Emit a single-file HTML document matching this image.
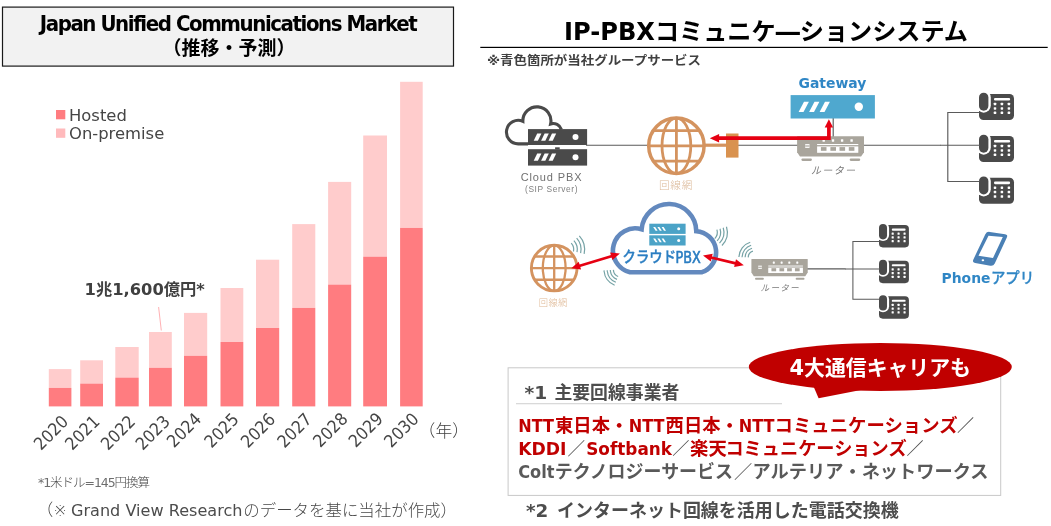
<!DOCTYPE html>
<html lang="ja"><head><meta charset="utf-8"><title>Japan Unified Communications Market / IP-PBX</title>
<style>
html,body{margin:0;padding:0;background:#fff;}
body{width:1051px;height:526px;overflow:hidden;position:relative;}
svg{position:absolute;left:0;top:0;display:block;will-change:transform;}
svg text{font-family:"DejaVu Sans","Noto Sans CJK JP",sans-serif;white-space:pre;}
</style></head><body>
<svg width="1051" height="526" viewBox="0 0 1051 526">
<rect x="2.5" y="7.1" width="451" height="59" fill="#f2f2f2" stroke="#1a1a1a" stroke-width="1.2"/>
<text x="39.8" y="30.7" font-size="22" font-weight="700" fill="#000" letter-spacing="-1.4" textLength="376.5" lengthAdjust="spacing" style="font-family:'DejaVu Sans Condensed','DejaVu Sans',sans-serif">Japan Unified Communications Market</text>
<text x="229" y="54.7" text-anchor="middle" font-size="19" font-weight="700" fill="#000">（推移・予測）</text>
<rect x="48.8" y="369.1" width="22.6" height="18.8" fill="#ffcccc"/>
<rect x="48.8" y="387.9" width="22.6" height="18.5" fill="#ff7c80"/>
<text transform="translate(41.05,451.05) rotate(-45)" font-size="17.2" fill="#454545" textLength="40.2" lengthAdjust="spacingAndGlyphs">2020</text>
<rect x="80.2" y="360.3" width="22.8" height="23.3" fill="#ffcccc"/>
<rect x="80.2" y="383.6" width="22.8" height="22.8" fill="#ff7c80"/>
<text transform="translate(72.35,451.05) rotate(-45)" font-size="17.2" fill="#454545" textLength="40.2" lengthAdjust="spacingAndGlyphs">2021</text>
<rect x="115.3" y="347.0" width="23.4" height="30.6" fill="#ffcccc"/>
<rect x="115.3" y="377.6" width="23.4" height="28.8" fill="#ff7c80"/>
<text transform="translate(107.95,451.05) rotate(-45)" font-size="17.2" fill="#454545" textLength="40.2" lengthAdjust="spacingAndGlyphs">2022</text>
<rect x="149.0" y="332.0" width="22.8" height="35.8" fill="#ffcccc"/>
<rect x="149.0" y="367.8" width="22.8" height="38.6" fill="#ff7c80"/>
<text transform="translate(142.65,451.05) rotate(-45)" font-size="17.2" fill="#454545" textLength="40.2" lengthAdjust="spacingAndGlyphs">2023</text>
<rect x="184.0" y="312.9" width="23.2" height="42.9" fill="#ffcccc"/>
<rect x="184.0" y="355.8" width="23.2" height="50.6" fill="#ff7c80"/>
<text transform="translate(174.05,448.55) rotate(-45)" font-size="17.2" fill="#454545" textLength="40.2" lengthAdjust="spacingAndGlyphs">2024</text>
<rect x="220.5" y="288.0" width="22.8" height="54.0" fill="#ffcccc"/>
<rect x="220.5" y="342.0" width="22.8" height="64.4" fill="#ff7c80"/>
<text transform="translate(211.55,448.85) rotate(-45)" font-size="17.2" fill="#454545" textLength="40.2" lengthAdjust="spacingAndGlyphs">2025</text>
<rect x="256.0" y="259.7" width="23.2" height="68.3" fill="#ffcccc"/>
<rect x="256.0" y="328.0" width="23.2" height="78.4" fill="#ff7c80"/>
<text transform="translate(248.05,448.85) rotate(-45)" font-size="17.2" fill="#454545" textLength="40.2" lengthAdjust="spacingAndGlyphs">2026</text>
<rect x="292.2" y="224.1" width="23.1" height="83.8" fill="#ffcccc"/>
<rect x="292.2" y="307.9" width="23.1" height="98.5" fill="#ff7c80"/>
<text transform="translate(284.45,448.75) rotate(-45)" font-size="17.2" fill="#454545" textLength="40.2" lengthAdjust="spacingAndGlyphs">2027</text>
<rect x="328.1" y="181.9" width="23.1" height="102.7" fill="#ffcccc"/>
<rect x="328.1" y="284.6" width="23.1" height="121.8" fill="#ff7c80"/>
<text transform="translate(320.35,448.25) rotate(-45)" font-size="17.2" fill="#454545" textLength="40.2" lengthAdjust="spacingAndGlyphs">2028</text>
<rect x="363.2" y="135.5" width="23.8" height="121.2" fill="#ffcccc"/>
<rect x="363.2" y="256.7" width="23.8" height="149.7" fill="#ff7c80"/>
<text transform="translate(355.75,448.25) rotate(-45)" font-size="17.2" fill="#454545" textLength="40.2" lengthAdjust="spacingAndGlyphs">2029</text>
<rect x="400.1" y="81.8" width="22.6" height="146.1" fill="#ffcccc"/>
<rect x="400.1" y="227.9" width="22.6" height="178.5" fill="#ff7c80"/>
<text transform="translate(391.35,448.45) rotate(-45)" font-size="17.2" fill="#454545" textLength="40.2" lengthAdjust="spacingAndGlyphs">2030</text>
<text x="418.6" y="437.4" font-size="16.8" font-weight="300" fill="#404040">（年）</text>
<rect x="56" y="110" width="9.3" height="9.3" fill="#ff7c80"/>
<rect x="56" y="128.5" width="9.3" height="9.3" fill="#ffbabc"/>
<text x="69" y="120.5" font-size="16.4" fill="#454545">Hosted</text>
<text x="69" y="139" font-size="16.4" fill="#454545">On-premise</text>
<text x="84.6" y="294.6" font-size="16" font-weight="700" fill="#404040" textLength="120.3" lengthAdjust="spacingAndGlyphs">1兆1,600億円*</text>
<line x1="158.6" y1="307" x2="161.3" y2="330.5" stroke="#ff9c9f" stroke-width="0.8"/>
<text x="38" y="486.5" font-size="12.5" font-weight="300" fill="#4a4a4a" textLength="112" lengthAdjust="spacing"><tspan font-weight="400" fill="#6e6e6e">*1</tspan>米ドル<tspan font-weight="400" fill="#6e6e6e">=145</tspan>円換算</text>
<text x="36.8" y="516" font-size="16.5" font-weight="300" fill="#484848">（※</text>
<text x="71" y="516" font-size="16.6" fill="#4c4c4c" textLength="171.5" lengthAdjust="spacingAndGlyphs">Grand View Research</text>
<text x="243.3" y="516" font-size="16.45" font-weight="300" fill="#484848">のデータを基に当社が作成）</text>
<text x="564" y="39.6" font-size="24" font-weight="700" fill="#000" textLength="404" lengthAdjust="spacingAndGlyphs">IP-PBXコミュニケ―ションシステム</text>
<rect x="480.3" y="46.8" width="567.4" height="1.2" fill="#000"/>
<text x="487" y="65" font-size="12" font-weight="700" fill="#404040" textLength="214" lengthAdjust="spacingAndGlyphs">※青色箇所が当社グループサービス</text>
<g stroke="#5a5a5a" stroke-width="1.15" fill="none"><path d="M586 145.2 H940.5"/><path d="M833.2 118 V137"/></g>
<path d="M528 143.85 H518.2 A11.75 11.75 0 1 1 522.86 121.31 A14.05 14.05 0 1 1 550.62 123.94 A8.65 8.65 0 0 1 561.38 129.4" fill="none" stroke="#4a4a4a" stroke-width="3.1" stroke-linecap="butt"/>
<rect x="528" y="129.1" width="59.1" height="15.9" fill="#4a4a4a"/>
<polygon points="533.7,140.7 537.2,133.4 541.4,133.4 537.9,140.7" fill="#fff"/>
<polygon points="541.1,140.7 544.6,133.4 548.8,133.4 545.3,140.7" fill="#fff"/>
<polygon points="548.5,140.7 552.0,133.4 556.2,133.4 552.7,140.7" fill="#fff"/>
<circle cx="575.5" cy="137.1" r="3" fill="#fff"/>
<rect x="528" y="149.2" width="59.1" height="16.4" fill="#4a4a4a"/>
<polygon points="533.7,160.8 537.2,153.5 541.4,153.5 537.9,160.8" fill="#fff"/>
<polygon points="541.1,160.8 544.6,153.5 548.8,153.5 545.3,160.8" fill="#fff"/>
<polygon points="548.5,160.8 552.0,153.5 556.2,153.5 552.7,160.8" fill="#fff"/>
<circle cx="575.5" cy="157.2" r="3" fill="#fff"/>
<rect x="555.1" y="147.3" width="4.6" height="2.2" fill="#4a4a4a"/>
<text x="551.6" y="181" text-anchor="middle" font-size="11" fill="#707070" letter-spacing="0.9" style="font-family:'Liberation Sans',sans-serif">Cloud PBX</text>
<text x="551.6" y="191.6" text-anchor="middle" font-size="8.4" fill="#808080" letter-spacing="0.6" style="font-family:'Liberation Sans','Noto Sans CJK JP',sans-serif">(SIP Server)</text>
<circle cx="676.4" cy="145.8" r="28" fill="#fff"/>
<g fill="none" stroke="#d4935f" stroke-width="2.80"><circle cx="676.4" cy="145.8" r="27.7" stroke-width="3.5"/><ellipse cx="676.4" cy="145.8" rx="14.40" ry="27.7"/><line x1="676.4" y1="118.10000000000001" x2="676.4" y2="173.5"/><line x1="648.6999999999999" y1="145.8" x2="704.1" y2="145.8"/><line x1="653.27" y1="130.56" x2="699.53" y2="130.56"/><line x1="653.27" y1="161.04" x2="699.53" y2="161.04"/></g>
<text x="676" y="189.3" text-anchor="middle" font-size="10.7" font-weight="300" fill="#dcb999" letter-spacing="0.6">回線網</text>
<rect x="705" y="143.6" width="22" height="3.2" fill="#d4935f"/>
<rect x="726" y="133.5" width="12.5" height="24.1" fill="#d9924f"/>
<text x="832.4" y="88.4" text-anchor="middle" font-size="14.6" font-weight="700" fill="#2f86c5" textLength="67.9" lengthAdjust="spacingAndGlyphs" style="font-family:'DejaVu Sans',sans-serif">Gateway</text>
<rect x="790.6" y="95.1" width="84.3" height="23.4" fill="#4fa8cf"/>
<polygon points="798.6,111.9 804.0,101.7 808.9,101.7 803.5,111.9" fill="#fff"/>
<polygon points="809.1,111.9 814.5,101.7 819.4,101.7 814.0,111.9" fill="#fff"/>
<polygon points="819.6,111.9 825.0,101.7 829.9,101.7 824.5,111.9" fill="#fff"/>
<circle cx="858.8" cy="106.8" r="4.2" fill="#fff"/>
<g transform="translate(797.1,136.2) scale(1.0)"><path d="M0.4 0 H66.5 L66.9 0.4 V16.1 L64 20.4 H2.9 L0 16.1 V0.4 Z" fill="#a9a59c"/><rect x="4.3" y="22.3" width="10.5" height="2.4" rx="1.1" fill="#a9a59c"/><rect x="52.6" y="22.3" width="10.5" height="2.4" rx="1.1" fill="#a9a59c"/><rect x="8.1" y="7.9" width="4.3" height="3.8" fill="#fff"/><rect x="8.1" y="9.2" width="4.3" height="1.2" fill="#a9a59c"/><rect x="25.4" y="3.1" width="2.4" height="2.4" rx="0.5" fill="#fff"/><rect x="34.7" y="3.1" width="2.4" height="2.4" rx="0.5" fill="#fff"/><rect x="43.8" y="3.1" width="2.4" height="2.4" rx="0.5" fill="#fff"/><rect x="53.3" y="3.1" width="2.4" height="2.4" rx="0.5" fill="#fff"/><rect x="20" y="7.8" width="41.2" height="1.1" fill="#fff"/><rect x="20" y="10.2" width="41.2" height="6.4" fill="#fff"/><rect x="23.8" y="10.9" width="5.6" height="3.7" fill="#a9a59c"/><rect x="33.3" y="10.9" width="5.6" height="3.7" fill="#a9a59c"/><rect x="42.4" y="10.9" width="5.6" height="3.7" fill="#a9a59c"/><rect x="51.7" y="10.9" width="5.6" height="3.7" fill="#a9a59c"/></g>
<text x="833.7" y="173.9" text-anchor="middle" font-size="10" font-weight="400" fill="#7a7a7a" letter-spacing="1.4" font-style="italic">ルーター</text>
<path d="M716 138.2 H828.9 V125.5" fill="none" stroke="#e60012" stroke-width="3.7" stroke-linejoin="miter"/>
<polygon points="709.80,138.30 719.10,134.00 719.10,142.60" fill="#e60012"/>
<polygon points="828.90,119.20 833.10,127.40 824.70,127.40" fill="#e60012"/>
<g transform="translate(979,92.7) scale(1.0)"><rect x="0" y="1.3" width="35" height="26.1" rx="4.5" fill="#4a4a4a"/><rect x="-2.4" y="-2.4" width="14.2" height="22.4" rx="7.1" fill="#fff"/><rect x="0" y="0" width="9.4" height="18" rx="4.7" fill="#4a4a4a"/><rect x="15" y="5.2" width="16.1" height="2.6" rx="1.1" fill="#fff"/><rect x="14.75" y="10.05" width="2.5" height="2.5" rx="0.6" fill="#fff"/><rect x="14.75" y="14.45" width="2.5" height="2.5" rx="0.6" fill="#fff"/><rect x="14.75" y="18.85" width="2.5" height="2.5" rx="0.6" fill="#fff"/><rect x="21.65" y="10.05" width="2.5" height="2.5" rx="0.6" fill="#fff"/><rect x="21.65" y="14.45" width="2.5" height="2.5" rx="0.6" fill="#fff"/><rect x="21.65" y="18.85" width="2.5" height="2.5" rx="0.6" fill="#fff"/><rect x="28.65" y="10.05" width="2.5" height="2.5" rx="0.6" fill="#fff"/><rect x="28.65" y="14.45" width="2.5" height="2.5" rx="0.6" fill="#fff"/><rect x="28.65" y="18.85" width="2.5" height="2.5" rx="0.6" fill="#fff"/></g>
<g transform="translate(979,134.7) scale(1.0)"><rect x="0" y="1.3" width="35" height="26.1" rx="4.5" fill="#4a4a4a"/><rect x="-2.4" y="-2.4" width="14.2" height="22.4" rx="7.1" fill="#fff"/><rect x="0" y="0" width="9.4" height="18" rx="4.7" fill="#4a4a4a"/><rect x="15" y="5.2" width="16.1" height="2.6" rx="1.1" fill="#fff"/><rect x="14.75" y="10.05" width="2.5" height="2.5" rx="0.6" fill="#fff"/><rect x="14.75" y="14.45" width="2.5" height="2.5" rx="0.6" fill="#fff"/><rect x="14.75" y="18.85" width="2.5" height="2.5" rx="0.6" fill="#fff"/><rect x="21.65" y="10.05" width="2.5" height="2.5" rx="0.6" fill="#fff"/><rect x="21.65" y="14.45" width="2.5" height="2.5" rx="0.6" fill="#fff"/><rect x="21.65" y="18.85" width="2.5" height="2.5" rx="0.6" fill="#fff"/><rect x="28.65" y="10.05" width="2.5" height="2.5" rx="0.6" fill="#fff"/><rect x="28.65" y="14.45" width="2.5" height="2.5" rx="0.6" fill="#fff"/><rect x="28.65" y="18.85" width="2.5" height="2.5" rx="0.6" fill="#fff"/></g>
<g transform="translate(979,176.4) scale(1.0)"><rect x="0" y="1.3" width="35" height="26.1" rx="4.5" fill="#4a4a4a"/><rect x="-2.4" y="-2.4" width="14.2" height="22.4" rx="7.1" fill="#fff"/><rect x="0" y="0" width="9.4" height="18" rx="4.7" fill="#4a4a4a"/><rect x="15" y="5.2" width="16.1" height="2.6" rx="1.1" fill="#fff"/><rect x="14.75" y="10.05" width="2.5" height="2.5" rx="0.6" fill="#fff"/><rect x="14.75" y="14.45" width="2.5" height="2.5" rx="0.6" fill="#fff"/><rect x="14.75" y="18.85" width="2.5" height="2.5" rx="0.6" fill="#fff"/><rect x="21.65" y="10.05" width="2.5" height="2.5" rx="0.6" fill="#fff"/><rect x="21.65" y="14.45" width="2.5" height="2.5" rx="0.6" fill="#fff"/><rect x="21.65" y="18.85" width="2.5" height="2.5" rx="0.6" fill="#fff"/><rect x="28.65" y="10.05" width="2.5" height="2.5" rx="0.6" fill="#fff"/><rect x="28.65" y="14.45" width="2.5" height="2.5" rx="0.6" fill="#fff"/><rect x="28.65" y="18.85" width="2.5" height="2.5" rx="0.6" fill="#fff"/></g>
<g stroke="#5a5a5a" stroke-width="1.15" fill="none"><path d="M979.5 112.5 H947.8 V181.5 H979.5"/><path d="M940 145.2 H980"/></g>
<g stroke="#5a5a5a" stroke-width="1.15" fill="none"><path d="M807 268.9 H845.5"/></g>
<g fill="none" stroke="#d4935f" stroke-width="2.32"><circle cx="554.2" cy="268.1" r="22.8" stroke-width="2.9"/><ellipse cx="554.2" cy="268.1" rx="11.40" ry="22.8"/><line x1="554.2" y1="245.3" x2="554.2" y2="290.90000000000003"/><line x1="531.4000000000001" y1="268.1" x2="577.0" y2="268.1"/><line x1="534.59" y1="256.47" x2="573.81" y2="256.47"/><line x1="534.59" y1="279.73" x2="573.81" y2="279.73"/></g>
<text x="553.2" y="305.6" text-anchor="middle" font-size="9.3" font-weight="300" fill="#dfb894" letter-spacing="0.3">回線網</text>
<path d="M571.23 243.08 A9.6 9.6 0 0 1 573.49 251.50" fill="none" stroke="#76a3a6" stroke-width="1.2"/>
<path d="M573.91 240.67 A13.2 13.2 0 0 1 577.01 252.24" fill="none" stroke="#76a3a6" stroke-width="1.2"/>
<path d="M576.66 238.19 A16.9 16.9 0 0 1 580.63 253.01" fill="none" stroke="#76a3a6" stroke-width="1.2"/>
<path d="M579.33 235.78 A20.5 20.5 0 0 1 584.15 253.76" fill="none" stroke="#76a3a6" stroke-width="1.2"/>
<path d="M618.15 276.55 A7.6 7.6 0 0 1 613.41 269.90" fill="none" stroke="#76a3a6" stroke-width="1.2"/>
<path d="M616.99 279.42 A10.7 10.7 0 0 1 610.31 270.06" fill="none" stroke="#76a3a6" stroke-width="1.2"/>
<path d="M615.83 282.30 A13.8 13.8 0 0 1 607.22 270.22" fill="none" stroke="#76a3a6" stroke-width="1.2"/>
<path d="M614.63 285.26 A17.0 17.0 0 0 1 604.02 270.39" fill="none" stroke="#76a3a6" stroke-width="1.2"/>
<path d="M716.91 229.67 A9.0 9.0 0 0 1 714.77 238.55" fill="none" stroke="#76a3a6" stroke-width="1.2"/>
<path d="M720.06 228.70 A12.3 12.3 0 0 1 717.15 240.84" fill="none" stroke="#76a3a6" stroke-width="1.2"/>
<path d="M723.22 227.74 A15.6 15.6 0 0 1 719.52 243.14" fill="none" stroke="#76a3a6" stroke-width="1.2"/>
<path d="M726.47 226.74 A19.0 19.0 0 0 1 721.97 245.50" fill="none" stroke="#76a3a6" stroke-width="1.2"/>
<path d="M748.20 257.37 A6.7 6.7 0 0 1 752.94 251.19" fill="none" stroke="#76a3a6" stroke-width="1.2"/>
<path d="M745.11 257.26 A9.8 9.8 0 0 1 752.03 248.23" fill="none" stroke="#76a3a6" stroke-width="1.2"/>
<path d="M742.01 257.15 A12.9 12.9 0 0 1 751.13 245.26" fill="none" stroke="#76a3a6" stroke-width="1.2"/>
<path d="M738.91 257.04 A16.0 16.0 0 0 1 750.22 242.30" fill="none" stroke="#76a3a6" stroke-width="1.2"/>
<path d="M630.0 272.2 A22.23 22.23 0 1 1 641.6 229.3 A27.39 27.39 0 0 1 696.3 231.2 A21.12 21.12 0 0 1 702.0 272.2 Z" fill="#fff" stroke="#6389be" stroke-width="4.6" stroke-linejoin="miter"/>
<rect x="649.3" y="223.7" width="36.3" height="10.2" fill="#4ba3c7"/>
<polygon points="653.2,227.0 655.2,227.0 657.6,230.7 655.6,230.7" fill="#fff"/>
<polygon points="657.4000000000001,227.0 659.4000000000001,227.0 661.8000000000001,230.7 659.8000000000001,230.7" fill="#fff"/>
<polygon points="661.6,227.0 663.6,227.0 666.0,230.7 664.0,230.7" fill="#fff"/>
<circle cx="678.7" cy="228.79999999999998" r="1.5" fill="#fff"/>
<rect x="649.3" y="235.3" width="36.3" height="10.2" fill="#4ba3c7"/>
<polygon points="653.2,238.60000000000002 655.2,238.60000000000002 657.6,242.3 655.6,242.3" fill="#fff"/>
<polygon points="657.4000000000001,238.60000000000002 659.4000000000001,238.60000000000002 661.8000000000001,242.3 659.8000000000001,242.3" fill="#fff"/>
<polygon points="661.6,238.60000000000002 663.6,238.60000000000002 666.0,242.3 664.0,242.3" fill="#fff"/>
<circle cx="678.7" cy="240.4" r="1.5" fill="#fff"/>
<text x="622.6" y="262.4" font-size="15" font-weight="500" fill="#2b7ec2" stroke="#2b7ec2" stroke-width="0.4" textLength="53.4" lengthAdjust="spacingAndGlyphs">クラウド</text>
<text x="675.5" y="262.8" font-size="15" font-weight="400" fill="#2b7ec2" stroke="#2b7ec2" stroke-width="0.6" textLength="25.2" lengthAdjust="spacingAndGlyphs" style="font-family:'DejaVu Sans',sans-serif">PBX</text>
<line x1="578.19" y1="266.22" x2="613.01" y2="255.68" stroke="#e60012" stroke-width="2.7"/>
<polygon points="619.90,253.60 612.44,260.03 610.13,252.38" fill="#e60012"/>
<polygon points="571.30,268.30 578.76,261.87 581.07,269.52" fill="#e60012"/>
<line x1="710.00" y1="257.27" x2="736.80" y2="263.63" stroke="#e60012" stroke-width="2.7"/>
<polygon points="743.80,265.30 734.12,267.11 735.97,259.33" fill="#e60012"/>
<polygon points="703.00,255.60 712.68,253.79 710.83,261.57" fill="#e60012"/>
<g transform="translate(751.4,259.0) scale(0.842)"><path d="M0.4 0 H66.5 L66.9 0.4 V16.1 L64 20.4 H2.9 L0 16.1 V0.4 Z" fill="#a9a59c"/><rect x="4.3" y="22.3" width="10.5" height="2.4" rx="1.1" fill="#a9a59c"/><rect x="52.6" y="22.3" width="10.5" height="2.4" rx="1.1" fill="#a9a59c"/><rect x="8.1" y="7.9" width="4.3" height="3.8" fill="#fff"/><rect x="8.1" y="9.2" width="4.3" height="1.2" fill="#a9a59c"/><rect x="25.4" y="3.1" width="2.4" height="2.4" rx="0.5" fill="#fff"/><rect x="34.7" y="3.1" width="2.4" height="2.4" rx="0.5" fill="#fff"/><rect x="43.8" y="3.1" width="2.4" height="2.4" rx="0.5" fill="#fff"/><rect x="53.3" y="3.1" width="2.4" height="2.4" rx="0.5" fill="#fff"/><rect x="20" y="7.8" width="41.2" height="1.1" fill="#fff"/><rect x="20" y="10.2" width="41.2" height="6.4" fill="#fff"/><rect x="23.8" y="10.9" width="5.6" height="3.7" fill="#a9a59c"/><rect x="33.3" y="10.9" width="5.6" height="3.7" fill="#a9a59c"/><rect x="42.4" y="10.9" width="5.6" height="3.7" fill="#a9a59c"/><rect x="51.7" y="10.9" width="5.6" height="3.7" fill="#a9a59c"/></g>
<text x="780.2" y="291" text-anchor="middle" font-size="8.6" font-weight="400" fill="#7a7a7a" letter-spacing="1.2" font-style="italic">ルーター</text>
<g transform="translate(879,224) scale(0.855)"><rect x="0" y="1.3" width="35" height="26.1" rx="4.5" fill="#4a4a4a"/><rect x="-2.4" y="-2.4" width="14.2" height="22.4" rx="7.1" fill="#fff"/><rect x="0" y="0" width="9.4" height="18" rx="4.7" fill="#4a4a4a"/><rect x="15" y="5.2" width="16.1" height="2.6" rx="1.1" fill="#fff"/><rect x="14.75" y="10.05" width="2.5" height="2.5" rx="0.6" fill="#fff"/><rect x="14.75" y="14.45" width="2.5" height="2.5" rx="0.6" fill="#fff"/><rect x="14.75" y="18.85" width="2.5" height="2.5" rx="0.6" fill="#fff"/><rect x="21.65" y="10.05" width="2.5" height="2.5" rx="0.6" fill="#fff"/><rect x="21.65" y="14.45" width="2.5" height="2.5" rx="0.6" fill="#fff"/><rect x="21.65" y="18.85" width="2.5" height="2.5" rx="0.6" fill="#fff"/><rect x="28.65" y="10.05" width="2.5" height="2.5" rx="0.6" fill="#fff"/><rect x="28.65" y="14.45" width="2.5" height="2.5" rx="0.6" fill="#fff"/><rect x="28.65" y="18.85" width="2.5" height="2.5" rx="0.6" fill="#fff"/></g>
<g transform="translate(879,259.7) scale(0.855)"><rect x="0" y="1.3" width="35" height="26.1" rx="4.5" fill="#4a4a4a"/><rect x="-2.4" y="-2.4" width="14.2" height="22.4" rx="7.1" fill="#fff"/><rect x="0" y="0" width="9.4" height="18" rx="4.7" fill="#4a4a4a"/><rect x="15" y="5.2" width="16.1" height="2.6" rx="1.1" fill="#fff"/><rect x="14.75" y="10.05" width="2.5" height="2.5" rx="0.6" fill="#fff"/><rect x="14.75" y="14.45" width="2.5" height="2.5" rx="0.6" fill="#fff"/><rect x="14.75" y="18.85" width="2.5" height="2.5" rx="0.6" fill="#fff"/><rect x="21.65" y="10.05" width="2.5" height="2.5" rx="0.6" fill="#fff"/><rect x="21.65" y="14.45" width="2.5" height="2.5" rx="0.6" fill="#fff"/><rect x="21.65" y="18.85" width="2.5" height="2.5" rx="0.6" fill="#fff"/><rect x="28.65" y="10.05" width="2.5" height="2.5" rx="0.6" fill="#fff"/><rect x="28.65" y="14.45" width="2.5" height="2.5" rx="0.6" fill="#fff"/><rect x="28.65" y="18.85" width="2.5" height="2.5" rx="0.6" fill="#fff"/></g>
<g transform="translate(879,295.2) scale(0.855)"><rect x="0" y="1.3" width="35" height="26.1" rx="4.5" fill="#4a4a4a"/><rect x="-2.4" y="-2.4" width="14.2" height="22.4" rx="7.1" fill="#fff"/><rect x="0" y="0" width="9.4" height="18" rx="4.7" fill="#4a4a4a"/><rect x="15" y="5.2" width="16.1" height="2.6" rx="1.1" fill="#fff"/><rect x="14.75" y="10.05" width="2.5" height="2.5" rx="0.6" fill="#fff"/><rect x="14.75" y="14.45" width="2.5" height="2.5" rx="0.6" fill="#fff"/><rect x="14.75" y="18.85" width="2.5" height="2.5" rx="0.6" fill="#fff"/><rect x="21.65" y="10.05" width="2.5" height="2.5" rx="0.6" fill="#fff"/><rect x="21.65" y="14.45" width="2.5" height="2.5" rx="0.6" fill="#fff"/><rect x="21.65" y="18.85" width="2.5" height="2.5" rx="0.6" fill="#fff"/><rect x="28.65" y="10.05" width="2.5" height="2.5" rx="0.6" fill="#fff"/><rect x="28.65" y="14.45" width="2.5" height="2.5" rx="0.6" fill="#fff"/><rect x="28.65" y="18.85" width="2.5" height="2.5" rx="0.6" fill="#fff"/></g>
<g stroke="#5a5a5a" stroke-width="1.05" fill="none"><path d="M879.5 241.5 H852.9 V299.2 H879.5"/><path d="M845 268.9 H880"/></g>
<g transform="translate(973,231.4)"><path d="M12.33 2.89 Q13.70 0.00 16.86 0.49 L32.04 2.81 Q35.20 3.30 33.84 6.20 L21.76 32.00 Q20.40 34.90 17.25 34.33 L2.15 31.57 Q-1.00 31.00 0.37 28.11 Z" fill="#4a80b5"/><path d="M15.5 4.3 L29.8 5.7 L20 26.7 L5.5 24.4 Z" fill="#fff"/><ellipse cx="9.9" cy="28.9" rx="1.3" ry="0.95" fill="#fff"/></g>
<text x="941.5" y="282.8" font-size="14.2" font-weight="700" fill="#2f86c5" textLength="49" lengthAdjust="spacingAndGlyphs" style="font-family:'DejaVu Sans',sans-serif">Phone</text>
<text x="990.9" y="282.9" font-size="15" font-weight="500" fill="#2f86c5" stroke="#2f86c5" stroke-width="0.3" textLength="43.4" lengthAdjust="spacingAndGlyphs">アプリ</text>
<rect x="508.1" y="367.8" width="492.6" height="127.6" fill="#fff" stroke="#c8c8c8" stroke-width="1"/>
<text x="524.6" y="398.6" font-size="17.5" font-weight="700" fill="#4d4d4d" textLength="22.7" lengthAdjust="spacingAndGlyphs" style="font-family:'DejaVu Sans Condensed','DejaVu Sans','Noto Sans CJK JP',sans-serif">*1</text>
<text x="554.4" y="398.6" font-size="17.8" font-weight="700" fill="#4d4d4d" textLength="125" lengthAdjust="spacingAndGlyphs">主要回線事業者</text>
<rect x="516" y="403" width="266" height="1.3" fill="#d9d9d9"/>
<text x="518.2" y="431.6" font-size="18.3" font-weight="700" fill="#c00000" textLength="35.8" lengthAdjust="spacingAndGlyphs" style="font-family:'DejaVu Sans Condensed','DejaVu Sans','Noto Sans CJK JP',sans-serif">NTT</text>
<text x="555.0" y="431.6" font-size="18.3" font-weight="700" fill="#c00000" textLength="73.3" lengthAdjust="spacingAndGlyphs">東日本・</text>
<text x="628.8" y="431.6" font-size="18.3" font-weight="700" fill="#c00000" textLength="35.8" lengthAdjust="spacingAndGlyphs" style="font-family:'DejaVu Sans Condensed','DejaVu Sans','Noto Sans CJK JP',sans-serif">NTT</text>
<text x="665.6" y="431.6" font-size="18.3" font-weight="700" fill="#c00000" textLength="73.2" lengthAdjust="spacingAndGlyphs">西日本・</text>
<text x="738.8" y="431.6" font-size="18.3" font-weight="700" fill="#c00000" textLength="35.8" lengthAdjust="spacingAndGlyphs" style="font-family:'DejaVu Sans Condensed','DejaVu Sans','Noto Sans CJK JP',sans-serif">NTT</text>
<text x="774.6" y="431.6" font-size="18.3" font-weight="700" fill="#c00000" textLength="183" lengthAdjust="spacingAndGlyphs">コミュニケーションズ</text>
<text x="957.0" y="431.6" font-size="17" font-weight="500" fill="#4d4d4d" textLength="17" lengthAdjust="spacingAndGlyphs">／</text>
<text x="518.2" y="454.5" font-size="18.3" font-weight="700" fill="#c00000" textLength="48.2" lengthAdjust="spacingAndGlyphs" style="font-family:'DejaVu Sans Condensed','DejaVu Sans','Noto Sans CJK JP',sans-serif">KDDI</text>
<text x="567.6" y="454.5" font-size="17.6" font-weight="500" fill="#4d4d4d" textLength="17.6" lengthAdjust="spacingAndGlyphs">／</text>
<text x="586.2" y="454.5" font-size="18.3" font-weight="700" fill="#c00000" textLength="85.8" lengthAdjust="spacingAndGlyphs" style="font-family:'DejaVu Sans Condensed','DejaVu Sans','Noto Sans CJK JP',sans-serif">Softbank</text>
<text x="672.3" y="454.5" font-size="17.2" font-weight="500" fill="#4d4d4d" textLength="17.2" lengthAdjust="spacingAndGlyphs">／</text>
<text x="690.1" y="454.5" font-size="18.3" font-weight="700" fill="#c00000" textLength="36.6" lengthAdjust="spacingAndGlyphs">楽天</text>
<text x="725.4" y="454.5" font-size="18.3" font-weight="700" fill="#c00000" textLength="181.2" lengthAdjust="spacingAndGlyphs">コミュニケーションズ</text>
<text x="906.6" y="454.5" font-size="17" font-weight="500" fill="#4d4d4d" textLength="17" lengthAdjust="spacingAndGlyphs">／</text>
<text x="518.2" y="477.8" font-size="18.3" font-weight="700" fill="#595959" textLength="36.3" lengthAdjust="spacingAndGlyphs" style="font-family:'DejaVu Sans Condensed','DejaVu Sans','Noto Sans CJK JP',sans-serif">Colt</text>
<text x="554.8" y="477.8" font-size="18.3" font-weight="700" fill="#595959" textLength="178.2" lengthAdjust="spacingAndGlyphs">テクノロジーサービス</text>
<text x="734.0" y="477.8" font-size="18.2" font-weight="500" fill="#595959" textLength="18.2" lengthAdjust="spacingAndGlyphs">／</text>
<text x="752.6" y="477.8" font-size="18.3" font-weight="700" fill="#595959" textLength="236" lengthAdjust="spacingAndGlyphs">アルテリア・ネットワークス</text>
<text x="526" y="516.8" font-size="17.5" font-weight="700" fill="#4d4d4d" textLength="22.3" lengthAdjust="spacingAndGlyphs" style="font-family:'DejaVu Sans Condensed','DejaVu Sans','Noto Sans CJK JP',sans-serif">*2</text>
<text x="557" y="516.8" font-size="18.3" font-weight="700" fill="#4d4d4d" textLength="341.7" lengthAdjust="spacingAndGlyphs">インターネット回線を活用した電話交換機</text>
<ellipse cx="880.3" cy="367" rx="131.5" ry="24" fill="#c00000"/>
<polygon points="812.5,384 818.6,398.2 866,389" fill="#c00000"/>
<text x="789.5" y="375" font-size="21" font-weight="700" fill="#fff" textLength="181.5" lengthAdjust="spacingAndGlyphs">4大通信キャリアも</text>
</svg>
</body></html>
